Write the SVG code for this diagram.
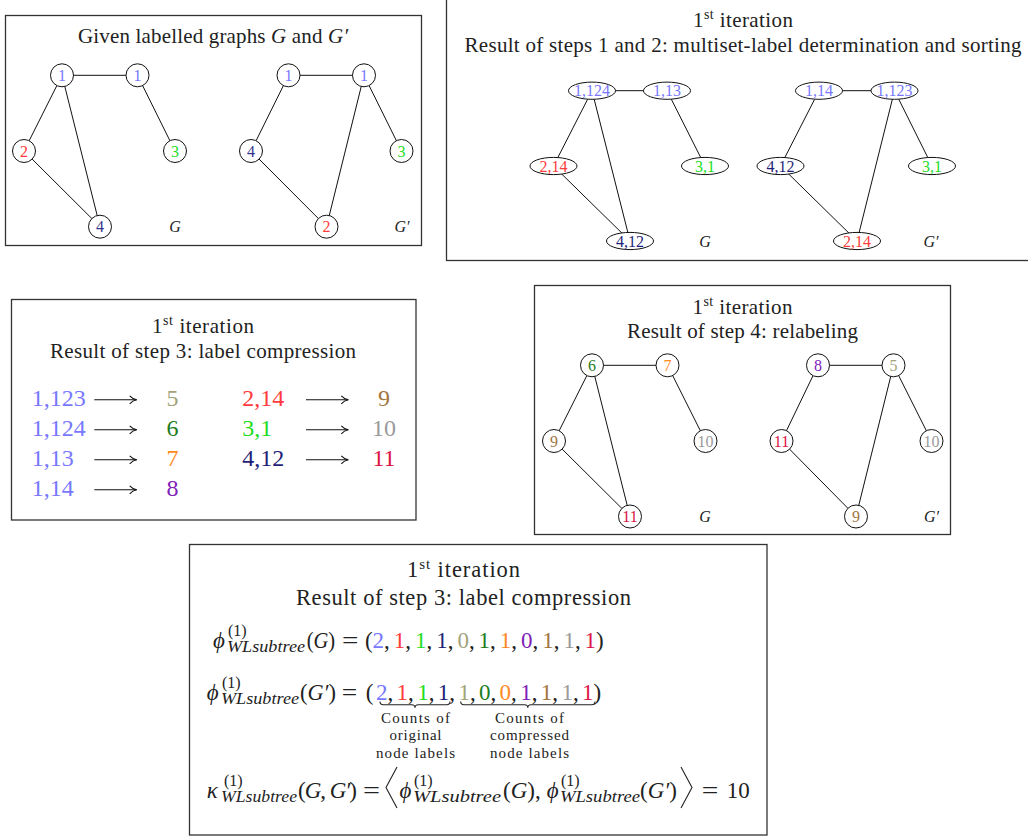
<svg xmlns="http://www.w3.org/2000/svg" width="1028" height="836" viewBox="0 0 1028 836">
<style>
text{font-family:"Liberation Serif","Times New Roman",serif;fill:#222}
.box{fill:none;stroke:#333;stroke-width:1.3}
.ttl{font-size:21px;text-anchor:middle}
.ttl5{font-size:22.5px;text-anchor:middle}
.nd circle,.nd ellipse{fill:#fff;stroke:#111;stroke-width:1}
.nl{font-size:16px;text-anchor:middle}
.cn line{stroke:#111;stroke-width:1}
.gl{font-size:16px;font-style:italic;text-anchor:middle}
.big{font-size:24px}
.bigc{font-size:24px;text-anchor:middle}
.m{font-size:23px}
.mi{font-size:23px;font-style:italic}
.s{font-size:16px}
.si{font-size:16px;font-style:italic}
.lb{font-size:15px;text-anchor:middle}
.arr{stroke:#111;stroke-width:1.1;fill:none}
.br{stroke:#222;stroke-width:1.1;fill:none}
.cb{fill:#7878ff}.cr{fill:#ff3b3b}.cg{fill:#22dd22}.cn1{fill:#35358a}.cnv{fill:#1f1f78}
.co{fill:#a3a37a}.cdg{fill:#1d7d1d}.cor{fill:#ff8a1f}.cp{fill:#8021b8}.cbr{fill:#a3753f}.cgy{fill:#9a9a9a}.ccr{fill:#dc1446}
</style>
<defs>
<marker id="ah" viewBox="0 0 10 10" refX="9" refY="5" markerWidth="10" markerHeight="10" markerUnits="userSpaceOnUse" orient="auto"><path d="M2,1 Q5,4.2 9,5 Q5,5.8 2,9" fill="none" stroke="#111" stroke-width="1.1"/></marker>
</defs>

<!-- Panel boxes -->
<g id="boxes">
<rect class="box" x="5.5" y="15.5" width="416" height="230"/>
<rect class="box" x="446.5" y="-1" width="600" height="261.5"/>
<rect class="box" x="11.5" y="299.5" width="404.5" height="220.5"/>
<rect class="box" x="534.5" y="285.5" width="416" height="249"/>
<rect class="box" x="189.5" y="544.5" width="577.5" height="290.5"/>
</g>

<!-- Titles -->
<g id="titles">
<text class="ttl" x="213" y="43.3" textLength="270" lengthAdjust="spacing">Given labelled graphs <tspan font-style="italic">G</tspan> and <tspan font-style="italic">G′</tspan></text>
<text class="ttl" x="743" y="27.3" textLength="100" lengthAdjust="spacing">1<tspan dy="-8" font-size="14">st</tspan><tspan dy="8"> iteration</tspan></text>
<text class="ttl" x="743" y="51.7" textLength="557" lengthAdjust="spacing">Result of steps 1 and 2: multiset-label determination and sorting</text>
<text class="ttl" x="203" y="333" textLength="102" lengthAdjust="spacing">1<tspan dy="-8" font-size="14">st</tspan><tspan dy="8"> iteration</tspan></text>
<text class="ttl" x="203" y="358" textLength="306" lengthAdjust="spacing">Result of step 3: label compression</text>
<text class="ttl" x="742.5" y="314.3" textLength="100" lengthAdjust="spacing">1<tspan dy="-8" font-size="14">st</tspan><tspan dy="8"> iteration</tspan></text>
<text class="ttl" x="742.5" y="337.7" textLength="231" lengthAdjust="spacing">Result of step 4: relabeling</text>
<text class="ttl5" x="463.5" y="577.3" textLength="113" lengthAdjust="spacing">1<tspan dy="-8.5" font-size="15">st</tspan><tspan dy="8.5"> iteration</tspan></text>
<text class="ttl5" x="463.5" y="604.7" textLength="335" lengthAdjust="spacing">Result of step 3: label compression</text>
</g>

<!-- Connectors -->
<g id="connectors" class="cn">
<!-- panel 1 G -->
<line x1="62" y1="75.3" x2="137.5" y2="75.3"/>
<line x1="62" y1="75.3" x2="24" y2="151"/>
<line x1="62" y1="75.3" x2="100" y2="226.7"/>
<line x1="137.5" y1="75.3" x2="175" y2="151"/>
<line x1="24" y1="151" x2="100" y2="226.7"/>
<!-- panel 1 G' -->
<line x1="288.5" y1="75.3" x2="364" y2="75.3"/>
<line x1="288.5" y1="75.3" x2="251" y2="151"/>
<line x1="364" y1="75.3" x2="326.5" y2="226.7"/>
<line x1="364" y1="75.3" x2="401.5" y2="151"/>
<line x1="251" y1="151" x2="326.5" y2="226.7"/>
<!-- panel 2 G -->
<line x1="592" y1="90.7" x2="667" y2="90.7"/>
<line x1="592" y1="90.7" x2="553.5" y2="166"/>
<line x1="592" y1="90.7" x2="630" y2="241"/>
<line x1="667" y1="90.7" x2="705" y2="166"/>
<line x1="553.5" y1="166" x2="630" y2="241"/>
<!-- panel 2 G' -->
<line x1="819" y1="90.7" x2="894.5" y2="90.7"/>
<line x1="819" y1="90.7" x2="780.5" y2="166"/>
<line x1="894.5" y1="90.7" x2="857" y2="241"/>
<line x1="894.5" y1="90.7" x2="932" y2="166"/>
<line x1="780.5" y1="166" x2="857" y2="241"/>
<!-- panel 4 G -->
<line x1="592" y1="365.3" x2="667.5" y2="365.3"/>
<line x1="592" y1="365.3" x2="554" y2="441"/>
<line x1="592" y1="365.3" x2="630" y2="516.5"/>
<line x1="667.5" y1="365.3" x2="705.5" y2="441"/>
<line x1="554" y1="441" x2="630" y2="516.5"/>
<!-- panel 4 G' -->
<line x1="818" y1="365.3" x2="893.5" y2="365.3"/>
<line x1="818" y1="365.3" x2="781.5" y2="441"/>
<line x1="893.5" y1="365.3" x2="856" y2="516.5"/>
<line x1="893.5" y1="365.3" x2="931.5" y2="441"/>
<line x1="781.5" y1="441" x2="856" y2="516.5"/>
</g>

<!-- Panel 1 nodes -->
<g id="p1-G-a" class="nd"><circle cx="62" cy="75.3" r="11.5"/><text class="nl cb" x="62" y="80.9">1</text></g>
<g id="p1-G-b" class="nd"><circle cx="137.5" cy="75.3" r="11.5"/><text class="nl cb" x="137.5" y="80.9">1</text></g>
<g id="p1-G-c" class="nd"><circle cx="24" cy="151" r="11.5"/><text class="nl cr" x="24" y="156.6">2</text></g>
<g id="p1-G-d" class="nd"><circle cx="175" cy="151" r="11.5"/><text class="nl cg" x="175" y="156.6">3</text></g>
<g id="p1-G-e" class="nd"><circle cx="100" cy="226.7" r="11.5"/><text class="nl cn1" x="100" y="232.3">4</text></g>
<text class="gl" x="175" y="232">G</text>
<g id="p1-H-a" class="nd"><circle cx="288.5" cy="75.3" r="11.5"/><text class="nl cb" x="288.5" y="80.9">1</text></g>
<g id="p1-H-b" class="nd"><circle cx="364" cy="75.3" r="11.5"/><text class="nl cb" x="364" y="80.9">1</text></g>
<g id="p1-H-c" class="nd"><circle cx="251" cy="151" r="11.5"/><text class="nl cn1" x="251" y="156.6">4</text></g>
<g id="p1-H-d" class="nd"><circle cx="401.5" cy="151" r="11.5"/><text class="nl cg" x="401.5" y="156.6">3</text></g>
<g id="p1-H-e" class="nd"><circle cx="326.5" cy="226.7" r="11.5"/><text class="nl cr" x="326.5" y="232.3">2</text></g>
<text class="gl" x="402" y="232">G′</text>

<!-- Panel 2 nodes -->
<g id="p2-G-a" class="nd"><ellipse cx="592" cy="90.7" rx="23.5" ry="8.6"/><text class="nl cb" x="592" y="96.2">1,124</text></g>
<g id="p2-G-b" class="nd"><ellipse cx="667" cy="90.7" rx="23.5" ry="8.6"/><text class="nl cb" x="667" y="96.2">1,13</text></g>
<g id="p2-G-c" class="nd"><ellipse cx="553.5" cy="166" rx="23.5" ry="8.6"/><text class="nl cr" x="553.5" y="171.5">2,14</text></g>
<g id="p2-G-d" class="nd"><ellipse cx="705" cy="166" rx="23.5" ry="8.6"/><text class="nl cg" x="705" y="171.5">3,1</text></g>
<g id="p2-G-e" class="nd"><ellipse cx="630" cy="241" rx="23.5" ry="8.6"/><text class="nl cnv" x="630" y="246.5">4,12</text></g>
<text class="gl" x="705" y="247">G</text>
<g id="p2-H-a" class="nd"><ellipse cx="819" cy="90.7" rx="23.5" ry="8.6"/><text class="nl cb" x="819" y="96.2">1,14</text></g>
<g id="p2-H-b" class="nd"><ellipse cx="894.5" cy="90.7" rx="23.5" ry="8.6"/><text class="nl cb" x="894.5" y="96.2">1,123</text></g>
<g id="p2-H-c" class="nd"><ellipse cx="780.5" cy="166" rx="23.5" ry="8.6"/><text class="nl cnv" x="780.5" y="171.5">4,12</text></g>
<g id="p2-H-d" class="nd"><ellipse cx="932" cy="166" rx="23.5" ry="8.6"/><text class="nl cg" x="932" y="171.5">3,1</text></g>
<g id="p2-H-e" class="nd"><ellipse cx="857" cy="241" rx="23.5" ry="8.6"/><text class="nl cr" x="857" y="246.5">2,14</text></g>
<text class="gl" x="931" y="247">G′</text>

<!-- Panel 3: label compression table -->
<g id="p3-table">
<text class="big cb" x="31.7" y="406.3">1,123</text>
<text class="big cb" x="31.7" y="436.3">1,124</text>
<text class="big cb" x="31.7" y="466.3">1,13</text>
<text class="big cb" x="31.7" y="496.3">1,14</text>
<line class="arr" x1="94.3" y1="399.8" x2="136.7" y2="399.8" marker-end="url(#ah)"/>
<line class="arr" x1="94.3" y1="429.8" x2="136.7" y2="429.8" marker-end="url(#ah)"/>
<line class="arr" x1="94.3" y1="459.8" x2="136.7" y2="459.8" marker-end="url(#ah)"/>
<line class="arr" x1="94.3" y1="489.8" x2="136.7" y2="489.8" marker-end="url(#ah)"/>
<text class="bigc co" x="172.5" y="406.3">5</text>
<text class="bigc cdg" x="172.5" y="436.3">6</text>
<text class="bigc cor" x="172.5" y="466.3">7</text>
<text class="bigc cp" x="172.5" y="496.3">8</text>
<text class="big cr" x="242.3" y="406.3">2,14</text>
<text class="big cg" x="242.3" y="436.3">3,1</text>
<text class="big cnv" x="242.3" y="466.3">4,12</text>
<line class="arr" x1="306" y1="399.8" x2="348.3" y2="399.8" marker-end="url(#ah)"/>
<line class="arr" x1="306" y1="429.8" x2="348.3" y2="429.8" marker-end="url(#ah)"/>
<line class="arr" x1="306" y1="459.8" x2="348.3" y2="459.8" marker-end="url(#ah)"/>
<text class="bigc cbr" x="384" y="406.3">9</text>
<text class="bigc cgy" x="384" y="436.3">10</text>
<text class="bigc ccr" x="384" y="466.3">11</text>
</g>

<!-- Panel 4 nodes -->
<g id="p4-G-a" class="nd"><circle cx="592" cy="365.3" r="11.5"/><text class="nl cdg" x="592" y="370.9">6</text></g>
<g id="p4-G-b" class="nd"><circle cx="667.5" cy="365.3" r="11.5"/><text class="nl cor" x="667.5" y="370.9">7</text></g>
<g id="p4-G-c" class="nd"><circle cx="554" cy="441" r="11.5"/><text class="nl cbr" x="554" y="446.6">9</text></g>
<g id="p4-G-d" class="nd"><circle cx="705.5" cy="441" r="11.5"/><text class="nl cgy" x="705.5" y="446.6">10</text></g>
<g id="p4-G-e" class="nd"><circle cx="630" cy="516.5" r="11.5"/><text class="nl ccr" x="630" y="522.1">11</text></g>
<text class="gl" x="705" y="522">G</text>
<g id="p4-H-a" class="nd"><circle cx="818" cy="365.3" r="11.5"/><text class="nl cp" x="818" y="370.9">8</text></g>
<g id="p4-H-b" class="nd"><circle cx="893.5" cy="365.3" r="11.5"/><text class="nl co" x="893.5" y="370.9">5</text></g>
<g id="p4-H-c" class="nd"><circle cx="781.5" cy="441" r="11.5"/><text class="nl ccr" x="781.5" y="446.6">11</text></g>
<g id="p4-H-d" class="nd"><circle cx="931.5" cy="441" r="11.5"/><text class="nl cgy" x="931.5" y="446.6">10</text></g>
<g id="p4-H-e" class="nd"><circle cx="856" cy="516.5" r="11.5"/><text class="nl cbr" x="856" y="522.1">9</text></g>
<text class="gl" x="931.5" y="522">G′</text>

<!-- Panel 5: formulas -->
<g id="phi-G">
<text class="mi" x="213" y="647.5">ϕ</text>
<text class="s" x="228" y="635.5">(1)</text>
<text class="si" x="227" y="651.5" textLength="78" lengthAdjust="spacingAndGlyphs">WLsubtree</text>
<text class="m" x="306.7" y="647.5" textLength="28.5" lengthAdjust="spacingAndGlyphs">(<tspan font-style="italic">G</tspan>)</text>
<text class="m" x="342" y="647.5" textLength="16.4" lengthAdjust="spacingAndGlyphs">=</text>
<text class="m" x="365" y="647.5">(</text>
<text class="m" y="647.5"><tspan x="372.6" class="cb">2</tspan>,<tspan x="393.8" class="cr">1</tspan>,<tspan x="415" class="cg">1</tspan>,<tspan x="436.2" class="cnv">1</tspan>,<tspan x="457.4" class="co">0</tspan>,<tspan x="478.6" class="cdg">1</tspan>,<tspan x="499.8" class="cor">1</tspan>,<tspan x="521" class="cp">0</tspan>,<tspan x="542.2" class="cbr">1</tspan>,<tspan x="563.4" class="cgy">1</tspan>,<tspan x="584.6" class="ccr">1</tspan>)</text>
</g>

<g id="phi-Gp">
<text class="mi" x="206.7" y="699.5">ϕ</text>
<text class="s" x="222" y="687.5">(1)</text>
<text class="si" x="221" y="703.5" textLength="78" lengthAdjust="spacingAndGlyphs">WLsubtree</text>
<text class="m" x="300" y="699.5" textLength="36" lengthAdjust="spacingAndGlyphs">(<tspan font-style="italic">G′</tspan>)</text>
<text class="m" x="341.7" y="699.5" textLength="15.5" lengthAdjust="spacingAndGlyphs">=</text>
<text class="m" x="365.7" y="699.5">(</text>
<text class="m" y="699.5"><tspan x="376" class="cb">2</tspan>,<tspan x="396.6" class="cr">1</tspan>,<tspan x="417.2" class="cg">1</tspan>,<tspan x="437.8" class="cnv">1</tspan>,<tspan x="458.4" class="co">1</tspan>,<tspan x="479" class="cdg">0</tspan>,<tspan x="499.6" class="cor">0</tspan>,<tspan x="520.2" class="cp">1</tspan>,<tspan x="540.8" class="cbr">1</tspan>,<tspan x="561.4" class="cgy">1</tspan>,<tspan x="582" class="ccr">1</tspan>)</text>
<path class="br" d="M380,701.5 q0,3.2 3.2,3.2 H411.8 q3.2,0 3.2,3 q0,-3 3.2,-3 H446.8 q3.2,0 3.2,-3.2"/>
<path class="br" d="M460.7,701.5 q0,3.2 3.2,3.2 H524.6 q3.2,0 3.2,3 q0,-3 3.2,-3 H591.8 q3.2,0 3.2,-3.2"/>
<text class="lb" x="415.5" y="722.5" textLength="69" lengthAdjust="spacing">Counts of</text>
<text class="lb" x="415.5" y="740" textLength="52" lengthAdjust="spacing">original</text>
<text class="lb" x="415.5" y="757.5" textLength="79" lengthAdjust="spacing">node labels</text>
<text class="lb" x="529.5" y="722.5" textLength="69" lengthAdjust="spacing">Counts of</text>
<text class="lb" x="529.5" y="740" textLength="79" lengthAdjust="spacing">compressed</text>
<text class="lb" x="529.5" y="757.5" textLength="79" lengthAdjust="spacing">node labels</text>
</g>

<g id="kappa">
<text class="mi" x="206.7" y="797.5">κ</text>
<text class="s" x="224" y="785.5">(1)</text>
<text class="si" x="221" y="801.5" textLength="76" lengthAdjust="spacingAndGlyphs">WLsubtree</text>
<text class="m" x="298" y="797.5" textLength="59" lengthAdjust="spacing">(<tspan font-style="italic">G</tspan>, <tspan font-style="italic">G′</tspan>)</text>
<text class="m" x="363" y="797.5" textLength="17" lengthAdjust="spacingAndGlyphs">=</text>
<path class="br" d="M397,767 L386,787.5 L397,808"/>
<text class="mi" x="399.5" y="797.5">ϕ</text>
<text class="s" x="414" y="785.5">(1)</text>
<text class="si" x="413" y="801.5" textLength="88" lengthAdjust="spacingAndGlyphs">WLsubtree</text>
<text class="m" x="503" y="797.5">(<tspan font-style="italic">G</tspan>),</text>
<text class="mi" x="546.7" y="797.5">ϕ</text>
<text class="s" x="561" y="785.5">(1)</text>
<text class="si" x="560" y="801.5" textLength="80" lengthAdjust="spacingAndGlyphs">WLsubtree</text>
<text class="m" x="640" y="797.5" textLength="37" lengthAdjust="spacingAndGlyphs">(<tspan font-style="italic">G′</tspan>)</text>
<path class="br" d="M681,767 L692,787.5 L681,808"/>
<text class="m" x="701.7" y="797.5" textLength="16.6" lengthAdjust="spacingAndGlyphs">=</text>
<text class="m" x="726.7" y="797.5">10</text>
</g>
</svg>
